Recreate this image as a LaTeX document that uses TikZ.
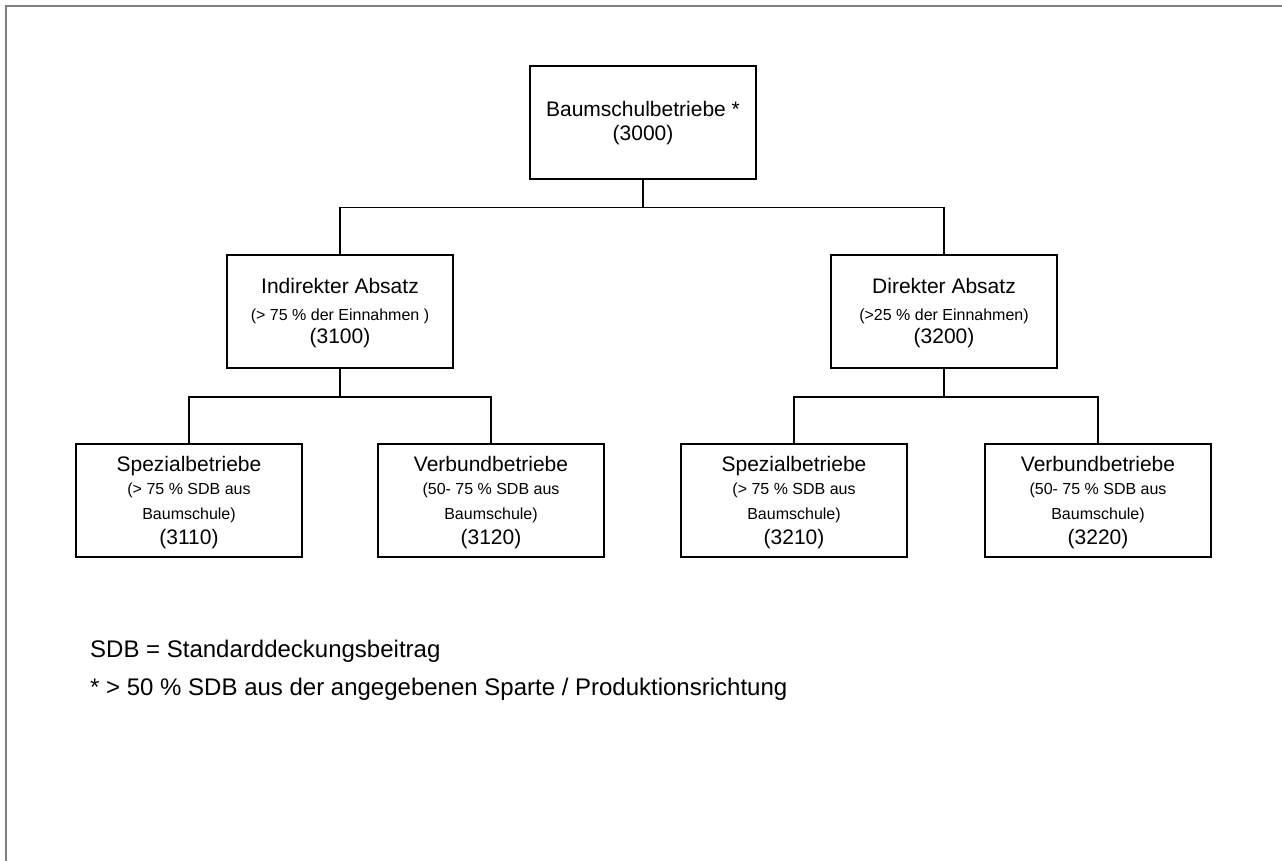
\documentclass[tikz,border=0pt]{standalone}
\usepackage{fontspec}
\setmainfont{Liberation Sans}
\begin{document}
\begin{tikzpicture}[x=1pt,y=-1pt,
  box/.style={draw=black,line width=1.5pt,minimum width=226pt,minimum height=113pt,inner sep=0pt},
  conn/.style={draw=black,line width=1.5pt},
  big/.style={anchor=base,inner sep=0pt,font=\fontsize{21}{25}\selectfont},
  small/.style={anchor=base,inner sep=0pt,font=\fontsize{16}{19}\selectfont},
  foot/.style={anchor=base west,inner sep=0pt,font=\fontsize{24}{28}\selectfont}]
\useasboundingbox (0,0) rectangle (1282,861);
\fill[white] (0,0) rectangle (1282,861);
\draw[line width=2pt,color={rgb,255:red,128;green,128;blue,128}] (6,861) -- (6,6) -- (1282,6);

% boxes
\node[box] (top) at (643,122.5) {};
\node[box] (midL) at (340,311.5) {};
\node[box] (midR) at (944,311.5) {};
\node[box] (b1) at (189,500.5) {};
\node[box] (b2) at (491,500.5) {};
\node[box] (b3) at (794,500.5) {};
\node[box] (b4) at (1098,500.5) {};

% connectors
\path (top.south) ++(0,28) coordinate (j1);
\draw[conn] (top.south) -- (j1);
\draw[conn] (midL.north) |- (j1) -| (midR.north);
\path (midL.south) ++(0,28) coordinate (j2);
\draw[conn] (midL.south) -- (j2);
\draw[conn] (b1.north) |- (j2) -| (b2.north);
\path (midR.south) ++(0,28) coordinate (j3);
\draw[conn] (midR.south) -- (j3);
\draw[conn] (b3.north) |- (j3) -| (b4.north);

% texts top
\node[big] (t1) at ([yshift=6]top.center) {Baumschulbetriebe *};
\node[big] (t2) at ([yshift=-18]top.center) {(3000)};

% middle
\node[big] (mL1) at ([yshift=18]midL.center) {Indirekter Absatz};
\node[small] (mL2) at ([yshift=-8.5]midL.center) {(> 75 \% der Einnahmen )};
\node[big] (mL3) at ([yshift=-32]midL.center) {(3100)};
\node[big] (mR1) at ([yshift=18]midR.center) {Direkter Absatz};
\node[small] (mR2) at ([yshift=-8.5]midR.center) {(>25 \% der Einnahmen)};
\node[big] (mR3) at ([yshift=-32]midR.center) {(3200)};

% bottom
\node[big] (b1a) at ([yshift=29]b1.center) {Spezialbetriebe};
\node[small] (b1b) at ([yshift=6.5]b1.center) {(> 75 \% SDB aus};
\node[small] (b1c) at ([yshift=-18.5]b1.center) {Baumschule)};
\node[big] (b1d) at ([yshift=-43.5]b1.center) {(3110)};

\node[big] (b2a) at ([yshift=29]b2.center) {Verbundbetriebe};
\node[small] (b2b) at ([yshift=6.5]b2.center) {(50- 75 \% SDB aus};
\node[small] (b2c) at ([yshift=-18.5]b2.center) {Baumschule)};
\node[big] (b2d) at ([yshift=-43.5]b2.center) {(3120)};

\node[big] (b3a) at ([yshift=29]b3.center) {Spezialbetriebe};
\node[small] (b3b) at ([yshift=6.5]b3.center) {(> 75 \% SDB aus};
\node[small] (b3c) at ([yshift=-18.5]b3.center) {Baumschule)};
\node[big] (b3d) at ([yshift=-43.5]b3.center) {(3210)};

\node[big] (b4a) at ([yshift=29]b4.center) {Verbundbetriebe};
\node[small] (b4b) at ([yshift=6.5]b4.center) {(50- 75 \% SDB aus};
\node[small] (b4c) at ([yshift=-18.5]b4.center) {Baumschule)};
\node[big] (b4d) at ([yshift=-43.5]b4.center) {(3220)};

% footnotes
\node[foot] (f1) at (90,657) {SDB = Standarddeckungsbeitrag};
\node[foot] (f2) at (90,695) {* > 50 \% SDB aus der angegebenen Sparte / Produktionsrichtung};
\end{tikzpicture}
\end{document}
